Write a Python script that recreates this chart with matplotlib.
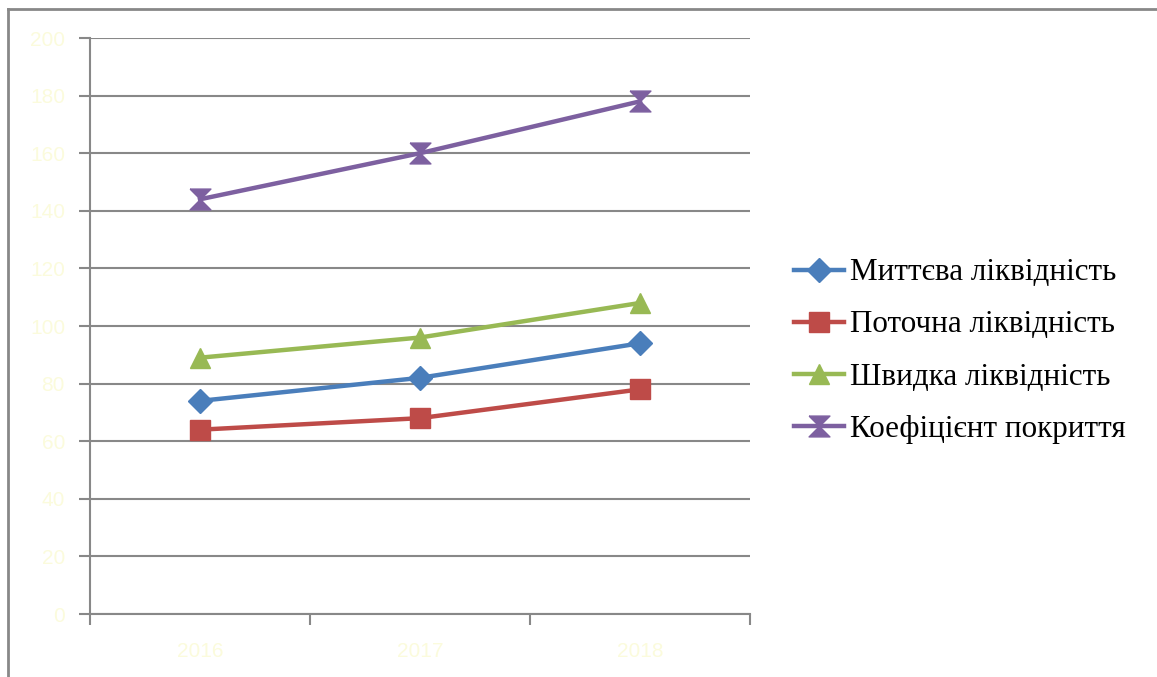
import numpy as np
import matplotlib
matplotlib.use("Agg")
import matplotlib.pyplot as plt
from matplotlib.lines import Line2D

years = ["2016", "2017", "2018"]
series_names = ["Миттєва ліквідність", "Поточна ліквідність",
                "Швидка ліквідність", "Коефіцієнт покриття"]
mittieva = [74, 82, 94]
potochna = [64, 68, 78]
shvydka = [89, 96, 108]
pokryttia = [144, 160, 178]
y_ticks = [0, 20, 40, 60, 80, 100, 120, 140, 160, 180, 200]

colors = ["#4A7EBB", "#BE4B48", "#98B954", "#7D60A0"]
hourglass = [(-1, 1), (1, 1), (-1, -1), (1, -1), (-1, 1)]
markers = ["D", "s", "^", hourglass]
msizes = [12, 15, 15, 15]

fig = plt.figure(figsize=(11.57, 6.77), dpi=100)
ax = fig.add_axes([90 / 1157, 63 / 677, 660 / 1157, 576 / 677])

x = np.arange(len(years))
for vals, name, c, m, ms in zip([mittieva, potochna, shvydka, pokryttia],
                                series_names, colors, markers, msizes):
    ax.plot(x, vals, color=c, lw=3.2, marker=m, ms=ms, mfc=c, mec=c,
            label=name, zorder=3)

ax.set_xlim(-0.5, 2.5)
ax.set_ylim(0, 200)
ax.set_yticks(y_ticks)
ax.set_xticks(x)
ax.set_xticklabels(years)
ax.set_xticks([-0.5, 0.5, 1.5, 2.5], minor=True)

lab_col = "#fbfbdc"
ax.tick_params(axis="x", which="major", length=0, pad=20, labelsize=15,
               labelcolor=lab_col)
ax.tick_params(axis="x", which="minor", length=8, width=1.5, color="#888888",
               direction="out")
ax.tick_params(axis="y", length=8, width=1.5, color="#888888", pad=10,
               labelsize=15, labelcolor=lab_col)
for t in ax.get_xticklabels() + ax.get_yticklabels():
    t.set_fontfamily("Liberation Sans")

ax.grid(axis="y", color="#888888", lw=1.5)
ax.set_axisbelow(True)
for s in ["top", "right"]:
    ax.spines[s].set_visible(False)
for s in ["left", "bottom"]:
    ax.spines[s].set_color("#888888")
    ax.spines[s].set_linewidth(1.5)

# outer chart frame (cropped: only left and top visible)
fig.add_artist(Line2D([8 / 1157, 8 / 1157], [0, 1 - 9 / 677], color="#888888",
                      lw=2, transform=fig.transFigure))
fig.add_artist(Line2D([8 / 1157, 1], [1 - 9 / 677, 1 - 9 / 677], color="#888888",
                      lw=2, transform=fig.transFigure))

fig.legend(loc="center left", bbox_to_anchor=(782 / 1157, 1 - 351 / 677),
           frameon=False, prop={"family": "Liberation Serif", "size": 22.4},
           handlelength=1.6, handletextpad=0.2, labelspacing=0.74,
           borderaxespad=0)

fig.savefig("out.png", dpi=100, facecolor="white")
